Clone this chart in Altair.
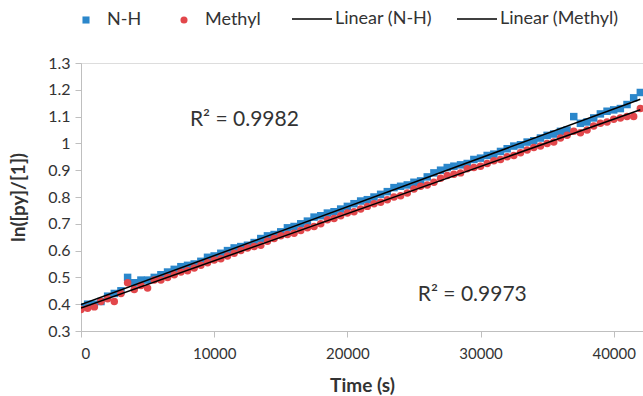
import altair as alt
import pandas as pd

time_s = [0, 500, 1000, 1500, 2000, 2500, 3000, 3500, 4000, 4500,
          5000, 5500, 6000, 6500, 7000, 7500, 8000, 8500, 9000, 9500,
          10000, 10500, 11000, 11500, 12000, 12500, 13000, 13500, 14000, 14500,
          15000, 15500, 16000, 16500, 17000, 17500, 18000, 18500, 19000, 19500,
          20000, 20500, 21000, 21500, 22000, 22500, 23000, 23500, 24000, 24500,
          25000, 25500, 26000, 26500, 27000, 27500, 28000, 28500, 29000, 29500,
          30000, 30500, 31000, 31500, 32000, 32500, 33000, 33500, 34000, 34500,
          35000, 35500, 36000, 36500, 37000, 37500, 38000, 38500, 39000, 39500,
          40000, 40500, 41000, 41500, 42000]

nh_values = [0.39, 0.40, 0.40, 0.41, 0.43, 0.44, 0.45, 0.50, 0.48, 0.49,
             0.49, 0.50, 0.51, 0.52, 0.53, 0.54, 0.545, 0.55, 0.56, 0.575,
             0.58, 0.59, 0.60, 0.61, 0.615, 0.62, 0.63, 0.645, 0.655, 0.66,
             0.67, 0.685, 0.69, 0.70, 0.71, 0.725, 0.73, 0.74, 0.745, 0.755,
             0.765, 0.775, 0.785, 0.79, 0.80, 0.81, 0.82, 0.835, 0.84, 0.845,
             0.855, 0.86, 0.875, 0.89, 0.90, 0.91, 0.915, 0.92, 0.925, 0.94,
             0.945, 0.955, 0.96, 0.97, 0.98, 0.99, 0.995, 1.005, 1.01, 1.02,
             1.03, 1.035, 1.045, 1.05, 1.10, 1.075, 1.08, 1.095, 1.11, 1.12,
             1.125, 1.13, 1.145, 1.17, 1.19]

methyl_values = [0.38, 0.385, 0.39, 0.41, 0.42, 0.41, 0.44, 0.48, 0.455, 0.47,
                 0.46, 0.49, 0.49, 0.50, 0.51, 0.52, 0.525, 0.535, 0.545, 0.555,
                 0.565, 0.57, 0.58, 0.59, 0.60, 0.61, 0.615, 0.62, 0.635, 0.645,
                 0.655, 0.66, 0.665, 0.675, 0.685, 0.69, 0.70, 0.715, 0.72, 0.73,
                 0.74, 0.745, 0.755, 0.765, 0.775, 0.78, 0.79, 0.80, 0.805, 0.815,
                 0.83, 0.84, 0.845, 0.855, 0.87, 0.88, 0.885, 0.89, 0.905, 0.91,
                 0.915, 0.925, 0.935, 0.94, 0.95, 0.955, 0.965, 0.975, 0.985, 0.99,
                 1.00, 1.005, 1.02, 1.03, 1.045, 1.04, 1.05, 1.065, 1.075, 1.08,
                 1.09, 1.095, 1.10, 1.10, 1.13]

point_series = ["N-H", "Methyl"]
point_colors = ["#2b87cb", "#e2474b"]
point_shapes = ["square", "circle"]
line_series = ["Linear (N-H)", "Linear (Methyl)"]
line_colors = ["#000000", "#000000"]

y_ticks = [0.3, 0.4, 0.5, 0.6, 0.7, 0.8, 0.9, 1.0, 1.1, 1.2, 1.3]
x_ticks = [0, 10000, 20000, 30000, 40000]

annot_text = ["R² = 0.9982", "R² = 0.9973"]
annot_t = [8180, 25290]
annot_v = [1.087, 0.434]

FONT = "Lato"
TXT = "#333333"

df = pd.DataFrame({
    "t": time_s + time_s,
    "v": nh_values + methyl_values,
    "series": ["N-H"] * len(time_s) + ["Methyl"] * len(time_s),
})
ann = pd.DataFrame({"t": annot_t, "v": annot_v, "label": annot_text})

xscale = alt.Scale(domain=[0, 42200], nice=False, zero=False)
yscale = alt.Scale(domain=[0.3, 1.3], nice=False, zero=False)

xaxis = alt.Axis(values=x_ticks, format="d", grid=False,
                 title="Time (s)", titleFontWeight="bold", titleFontSize=19,
                 titleFont=FONT, titleColor=TXT, labelFont=FONT, labelFontSize=15,
                 labelColor=TXT, domainColor="#bfbfbf", tickColor="#bfbfbf",
                 tickSize=6, labelPadding=9, titlePadding=15, labelOverlap=False)
yaxis = alt.Axis(values=y_ticks, format="~g", grid=False, title="ln([py]/[1])",
                 titleFontWeight="bold", titleFontSize=19, titleFont=FONT,
                 titleColor=TXT, labelFont=FONT, labelFontSize=16, labelColor=TXT,
                 domainColor="#bfbfbf", tickColor="#bfbfbf", tickSize=6,
                 labelPadding=5, titlePadding=19, labelOverlap=False)

pt_legend = alt.Legend(orient="none", legendX=-4, legendY=-52, direction="horizontal",
                       title=None, labelFont=FONT, labelFontSize=18, labelColor=TXT,
                       labelOffset=12, columnPadding=33, columns=2, symbolSize=50)
ln_legend = alt.Legend(orient="none", legendX=210, legendY=-65, direction="horizontal",
                       title=None, labelFont=FONT, labelFontSize=18, labelColor=TXT,
                       labelOffset=2, columnPadding=21, columns=2, symbolType="stroke",
                       symbolSize=1600, symbolStrokeWidth=1.5)

X = alt.X("t:Q", scale=xscale, axis=xaxis)
Y = alt.Y("v:Q", scale=yscale, axis=yaxis)

points = alt.Chart(df).mark_point(filled=True, opacity=1, size=56, clip=True).encode(
    x=X, y=Y,
    fill=alt.Fill("series:N", scale=alt.Scale(domain=point_series, range=point_colors),
                  legend=pt_legend, title=None),
    shape=alt.Shape("series:N", scale=alt.Scale(domain=point_series, range=point_shapes),
                    legend=pt_legend, title=None),
)

lines = alt.Chart(df).transform_regression(
    "t", "v", groupby=["series"]
).transform_calculate(
    fit="'Linear (' + datum.series + ')'"
).mark_line(strokeWidth=1.5, clip=True).encode(
    x=X, y=Y,
    stroke=alt.Stroke("fit:N", scale=alt.Scale(domain=line_series, range=line_colors),
                      legend=ln_legend, title=None),
)

texts = alt.Chart(ann).mark_text(align="left", baseline="middle", font=FONT,
                                 fontSize=21, color=TXT).encode(
    x=X, y=Y, text="label:N",
)

chart = alt.layer(points, lines, texts).properties(
    width=562, height=268,
    autosize=alt.AutoSizeParams(type="none"),
    padding={"left": 81, "top": 63, "right": 0, "bottom": 65},
).configure_view(stroke=None).configure_axis(labelOverlap=False).configure(background="white")

chart.save("out.html", embed_options={"renderer": "svg", "actions": False})
